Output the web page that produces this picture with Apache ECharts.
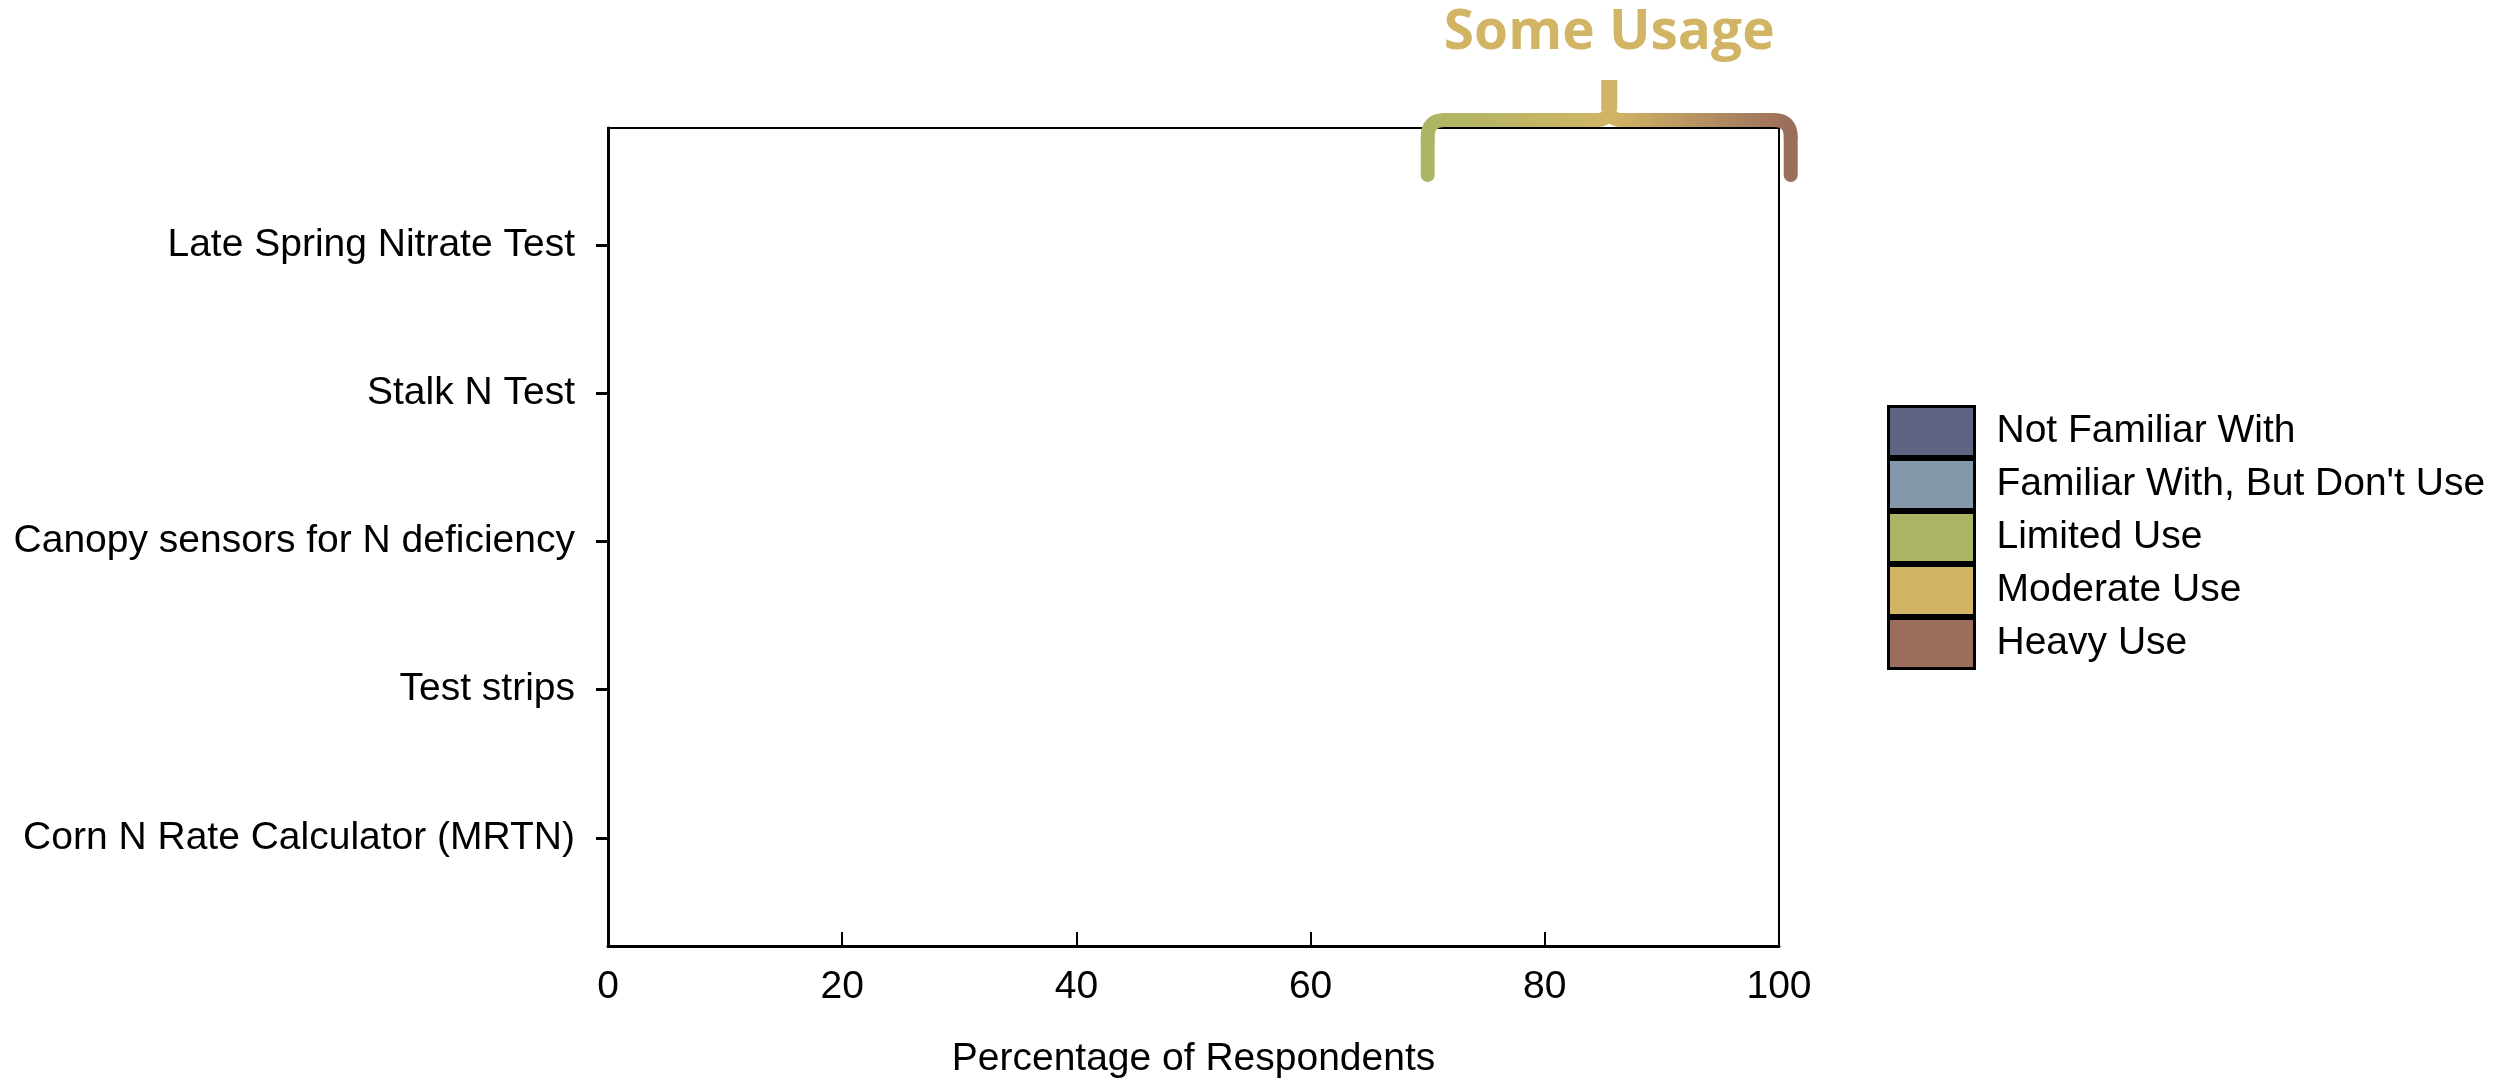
<!DOCTYPE html>
<html>
<head>
<meta charset="utf-8">
<script src="https://cdn.jsdelivr.net/npm/echarts@6/dist/echarts.min.js"></script>
<style>
html,body{margin:0;padding:0;background:#fff;}
#chart{width:2509px;height:1084px;}
</style>
</head>
<body>
<div id="chart"></div>
<script>
// ---- data (no bars are visible in the reference, so all values are empty) ----
const categories = [
  'Late Spring Nitrate Test',
  'Stalk N Test',
  'Canopy sensors for N deficiency',
  'Test strips',
  'Corn N Rate Calculator (MRTN)'
];
const seriesNames = [
  'Not Familiar With',
  "Familiar With, But Don't Use",
  'Limited Use',
  'Moderate Use',
  'Heavy Use'
];
const notFamiliar = [null, null, null, null, null];
const familiarNoUse = [null, null, null, null, null];
const limitedUse = [null, null, null, null, null];
const moderateUse = [null, null, null, null, null];
const heavyUse = [null, null, null, null, null];
const xTicks = [0, 20, 40, 60, 80, 100];
const braceRange = [70, 101];
const braceLabel = 'Some Usage';
const axisTitle = 'Percentage of Respondents';

// ---- styles ----
const colors = ['#5F6483', '#8497AB', '#ACB564', '#D1B565', '#9A6E5B'];
const FONT = '"Liberation Sans", Arial, sans-serif';
const values = [notFamiliar, familiarNoUse, limitedUse, moderateUse, heavyUse];

const chart = echarts.init(document.getElementById('chart'), null, {renderer: 'canvas'});

const option = {
  backgroundColor: '#fff',
  animation: false,
  grid: [
    {left: 608, right: 730, top: 128, bottom: 137, show: true, borderColor: '#000', borderWidth: 2, backgroundColor: 'transparent'},
    {left: 608, right: 730, top: 171, bottom: 172}
  ],
  legend: {
    orient: 'vertical',
    left: 1882,
    top: 400,
    itemWidth: 86,
    itemHeight: 50,
    itemGap: 0,
    icon: 'rect',
    data: seriesNames,
    itemStyle: {borderColor: '#000', borderWidth: 3},
    textStyle: {fontFamily: FONT, fontSize: 39, lineHeight: 44, color: '#000', padding: [0, 0, 0, 17]}
  },
  xAxis: [
    {
      gridIndex: 0, type: 'value', min: xTicks[0], max: xTicks[xTicks.length - 1], interval: xTicks[1] - xTicks[0],
      axisLine: {show: true, lineStyle: {color: '#000', width: 3}},
      axisTick: {show: true, inside: true, length: 14, lineStyle: {color: '#000', width: 2}},
      axisLabel: {fontFamily: FONT, fontSize: 39, color: '#000', margin: 22},
      splitLine: {show: false},
      name: axisTitle, nameLocation: 'middle', nameGap: 94,
      nameTextStyle: {fontFamily: FONT, fontSize: 39, color: '#000'}
    },
    {
      gridIndex: 1, type: 'value', min: xTicks[0], max: xTicks[xTicks.length - 1], show: false
    }
  ],
  yAxis: [
    {
      gridIndex: 0, type: 'value', min: 0, max: 1,
      axisLine: {show: true, lineStyle: {color: '#000', width: 3}},
      axisTick: {show: false}, axisLabel: {show: false}, splitLine: {show: false}
    },
    {
      gridIndex: 1, type: 'category', inverse: true, data: categories,
      axisLine: {show: false},
      axisTick: {show: true, alignWithLabel: true, length: 12, lineStyle: {color: '#000', width: 3}},
      axisLabel: {fontFamily: FONT, fontSize: 39, color: '#000', margin: 33},
      splitLine: {show: false}
    }
  ],
  series: seriesNames.map((n, i) => ({
    name: n,
    type: 'bar',
    stack: 'total',
    xAxisIndex: 1,
    yAxisIndex: 1,
    barWidth: '60%',
    itemStyle: {color: colors[i], borderColor: '#000', borderWidth: 2},
    data: values[i]
  }))
};
chart.setOption(option);

// ---- brace annotation over the "Some Usage" range ----
const L = chart.convertToPixel({xAxisIndex: 0}, braceRange[0]);
const R = chart.convertToPixel({xAxisIndex: 0}, braceRange[1]);
const M = (L + R) / 2;
const yLine = 120, yLeg = 175, yPeak = 80, r = 17;

const gradient = {
  type: 'linear', x: L, y: 0, x2: R, y2: 0, global: true,
  colorStops: [
    {offset: 0, color: colors[2]},
    {offset: 0.5, color: colors[3]},
    {offset: 1, color: colors[4]}
  ]
};
const st = (w, cap) => ({stroke: gradient, lineWidth: w || 14, lineCap: cap || 'round', fill: null});
const seg = (x1, y1, x2, y2, w, cap) => ({type: 'line', shape: {x1, y1, x2, y2}, style: st(w, cap), z: 100, silent: true});
const crv = (x1, y1, cx, cy, x2, y2) => ({type: 'bezierCurve', shape: {x1, y1, cpx1: cx, cpy1: cy, x2, y2}, style: st(), z: 100, silent: true});

chart.setOption({
  graphic: [
    seg(L, yLeg, L, yLine + r),
    crv(L, yLine + r, L, yLine, L + r, yLine),
    seg(L + r, yLine, M - 12, yLine),
    crv(M - 12, yLine, M, yLine, M, yLine - 12),
    seg(M, yLine - 10, M, yPeak, 16, 'butt'),
    crv(M, yLine - 12, M, yLine, M + 12, yLine),
    seg(M + 12, yLine, R - r, yLine),
    crv(R - r, yLine, R, yLine, R, yLine + r),
    seg(R, yLine + r, R, yLeg),
    {
      type: 'text',
      x: M,
      y: 33,
      style: {
        text: braceLabel,
        fill: colors[3],
        font: 'bold 55px "Open Sans", sans-serif',
        align: 'center',
        verticalAlign: 'middle'
      },
      z: 100
    }
  ]
});
</script>
</body>
</html>
